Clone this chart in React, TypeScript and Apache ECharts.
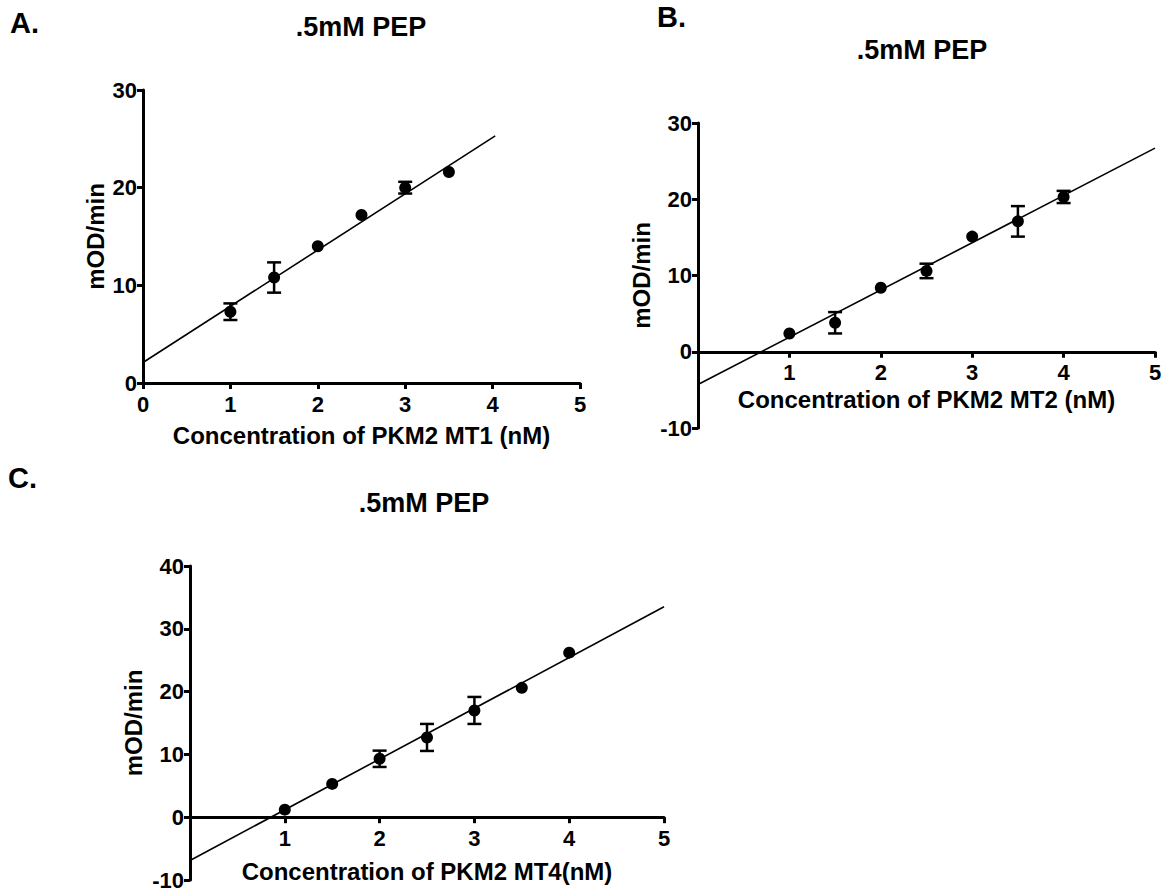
import React, { useEffect, useRef } from "react";
import * as echarts from "echarts";

// ---------- data ----------
const concA = [1, 1.5, 2, 2.5, 3, 3.5];
const rateA = [7.3, 10.8, 14.0, 17.2, 20.0, 21.6];
const semA = [0.85, 1.55, 0, 0, 0.6, 0];
const fitA = [[0, 2.1], [4.03, 25.3]];

const concB = [1, 1.5, 2, 2.5, 3, 3.5, 4];
const rateB = [2.4, 3.8, 8.4, 10.6, 15.1, 17.1, 20.3];
const semB = [0, 1.4, 0, 0.95, 0, 2.0, 0.8];
const fitB = [[0, -4.3], [5, 26.7]];

const concC = [1, 1.5, 2, 2.5, 3, 3.5, 4];
const rateC = [1.2, 5.3, 9.3, 12.7, 17.0, 20.6, 26.2];
const semC = [0, 0, 1.3, 2.15, 2.15, 0, 0];
const fitC = [[0, -6.9], [5, 33.5]];

const titles = [".5mM PEP", ".5mM PEP", ".5mM PEP"];
const panelLetters = ["A.", "B.", "C."];
const xNames = [
  "Concentration of PKM2 MT1 (nM)",
  "Concentration of PKM2 MT2 (nM)",
  "Concentration of PKM2 MT4(nM)",
];
const yName = "mOD/min";
const xTicks = [0, 5, 1];
const yRanges = [
  [0, 30, 10],
  [-10, 30, 10],
  [-10, 40, 10],
];

const FONT = '"Liberation Sans", Arial, Helvetica, sans-serif';

export default function App() {
  const ref = useRef<HTMLDivElement>(null);

  useEffect(() => {
    document.body.style.margin = "0";
    if (!ref.current) return;
    const chart = echarts.init(ref.current, undefined, { renderer: "svg" });

    const panels = [
      { x: concA, y: rateA, e: semA, fit: fitA, showZero: true,
        grid: { left: 143, top: 90, width: 437, height: 293 },
        nameGapX: 40, nameGapY: 36, title: { x: 361, y: 13 }, letter: { x: 10, y: 8 } },
      { x: concB, y: rateB, e: semB, fit: fitB, showZero: false,
        grid: { left: 698, top: 123, width: 457, height: 305 },
        nameGapX: 36, nameGapY: 45, title: { x: 922, y: 36 }, letter: { x: 657, y: 2 } },
      { x: concC, y: rateC, e: semC, fit: fitC, showZero: false,
        grid: { left: 190, top: 566, width: 474, height: 314 },
        nameGapX: 42, nameGapY: 45, title: { x: 424, y: 489 }, letter: { x: 8, y: 463 } },
    ];

    const axisLineStyle = { color: "#000", width: 3 };
    const labelStyle = { color: "#000", fontFamily: FONT, fontWeight: "bold" as const, fontSize: 22 };
    const nameStyle = { color: "#000", fontFamily: FONT, fontWeight: "bold" as const, fontSize: 24 };

    const grids: any[] = [];
    const xAxes: any[] = [];
    const yAxes: any[] = [];
    const series: any[] = [];
    const titleOpts: any[] = [];

    panels.forEach((p, i) => {
      grids.push({ ...p.grid, containLabel: false });
      const [yMin, yMax, yInt] = yRanges[i];
      // move the x axis (line, ticks, labels, name) up to the y = 0 level
      const zeroOffset = -(p.grid.height * (0 - yMin)) / (yMax - yMin);
      xAxes.push({
        type: "value",
        gridIndex: i,
        position: "bottom",
        offset: zeroOffset,
        min: xTicks[0],
        max: xTicks[1],
        interval: xTicks[2],
        name: xNames[i],
        nameLocation: "middle",
        nameGap: p.nameGapX,
        nameTextStyle: nameStyle,
        axisLine: { show: true, onZero: false, lineStyle: axisLineStyle },
        axisTick: { show: true, length: 6, lineStyle: { color: "#000", width: 3 } },
        axisLabel: {
          ...labelStyle,
          margin: 10,
          formatter: (v: number) => (v === 0 && !p.showZero ? "" : String(v)),
        },
        splitLine: { show: false },
      });
      yAxes.push({
        type: "value",
        gridIndex: i,
        min: yMin,
        max: yMax,
        interval: yInt,
        name: yName,
        nameLocation: "middle",
        nameGap: p.nameGapY,
        nameRotate: 90,
        nameTextStyle: nameStyle,
        axisLine: { show: true, onZero: false, lineStyle: axisLineStyle },
        axisTick: { show: true, length: 6, lineStyle: { color: "#000", width: 3 } },
        axisLabel: { ...labelStyle, margin: 6 },
        splitLine: { show: false },
      });

      // fit line
      series.push({
        type: "line",
        xAxisIndex: i,
        yAxisIndex: i,
        data: p.fit,
        showSymbol: false,
        symbol: "none",
        lineStyle: { color: "#000", width: 1.6 },
        z: 2,
      });

      // error bars (mean ± SEM)
      const errData = p.x
        .map((xv, k) => (p.e[k] > 0 ? [xv, p.y[k] - p.e[k], p.y[k] + p.e[k]] : null))
        .filter((d) => d !== null);
      series.push({
        type: "custom",
        xAxisIndex: i,
        yAxisIndex: i,
        data: errData,
        encode: { x: 0, y: [1, 2] },
        z: 3,
        renderItem: (params: any, api: any) => {
          const xv = api.value(0);
          const top = api.coord([xv, api.value(2)]);
          const bot = api.coord([xv, api.value(1)]);
          const hw = 7;
          const st = { stroke: "#000", lineWidth: 2.5 };
          return {
            type: "group",
            children: [
              { type: "line", shape: { x1: top[0], y1: top[1], x2: bot[0], y2: bot[1] }, style: st },
              { type: "line", shape: { x1: top[0] - hw, y1: top[1], x2: top[0] + hw, y2: top[1] }, style: st },
              { type: "line", shape: { x1: bot[0] - hw, y1: bot[1], x2: bot[0] + hw, y2: bot[1] }, style: st },
            ],
          };
        },
      });

      // points
      series.push({
        type: "scatter",
        xAxisIndex: i,
        yAxisIndex: i,
        data: p.x.map((xv, k) => [xv, p.y[k]]),
        symbol: "circle",
        symbolSize: 12,
        itemStyle: { color: "#000", opacity: 1 },
        z: 4,
      });

      titleOpts.push({
        text: titles[i],
        left: p.title.x,
        top: p.title.y,
        textAlign: "center",
        padding: 0,
        textStyle: { color: "#000", fontFamily: FONT, fontWeight: "bold", fontSize: 27 },
      });
      titleOpts.push({
        text: panelLetters[i],
        left: p.letter.x,
        top: p.letter.y,
        padding: 0,
        textStyle: { color: "#000", fontFamily: FONT, fontWeight: "bold", fontSize: 29 },
      });
    });

    chart.setOption({
      animation: false,
      backgroundColor: "#fff",
      title: titleOpts,
      grid: grids,
      xAxis: xAxes,
      yAxis: yAxes,
      series,
    });

    return () => chart.dispose();
  }, []);

  return (
    <div
      ref={ref}
      style={{ position: "absolute", left: 0, top: 0, width: 1169, height: 895 }}
    />
  );
}
